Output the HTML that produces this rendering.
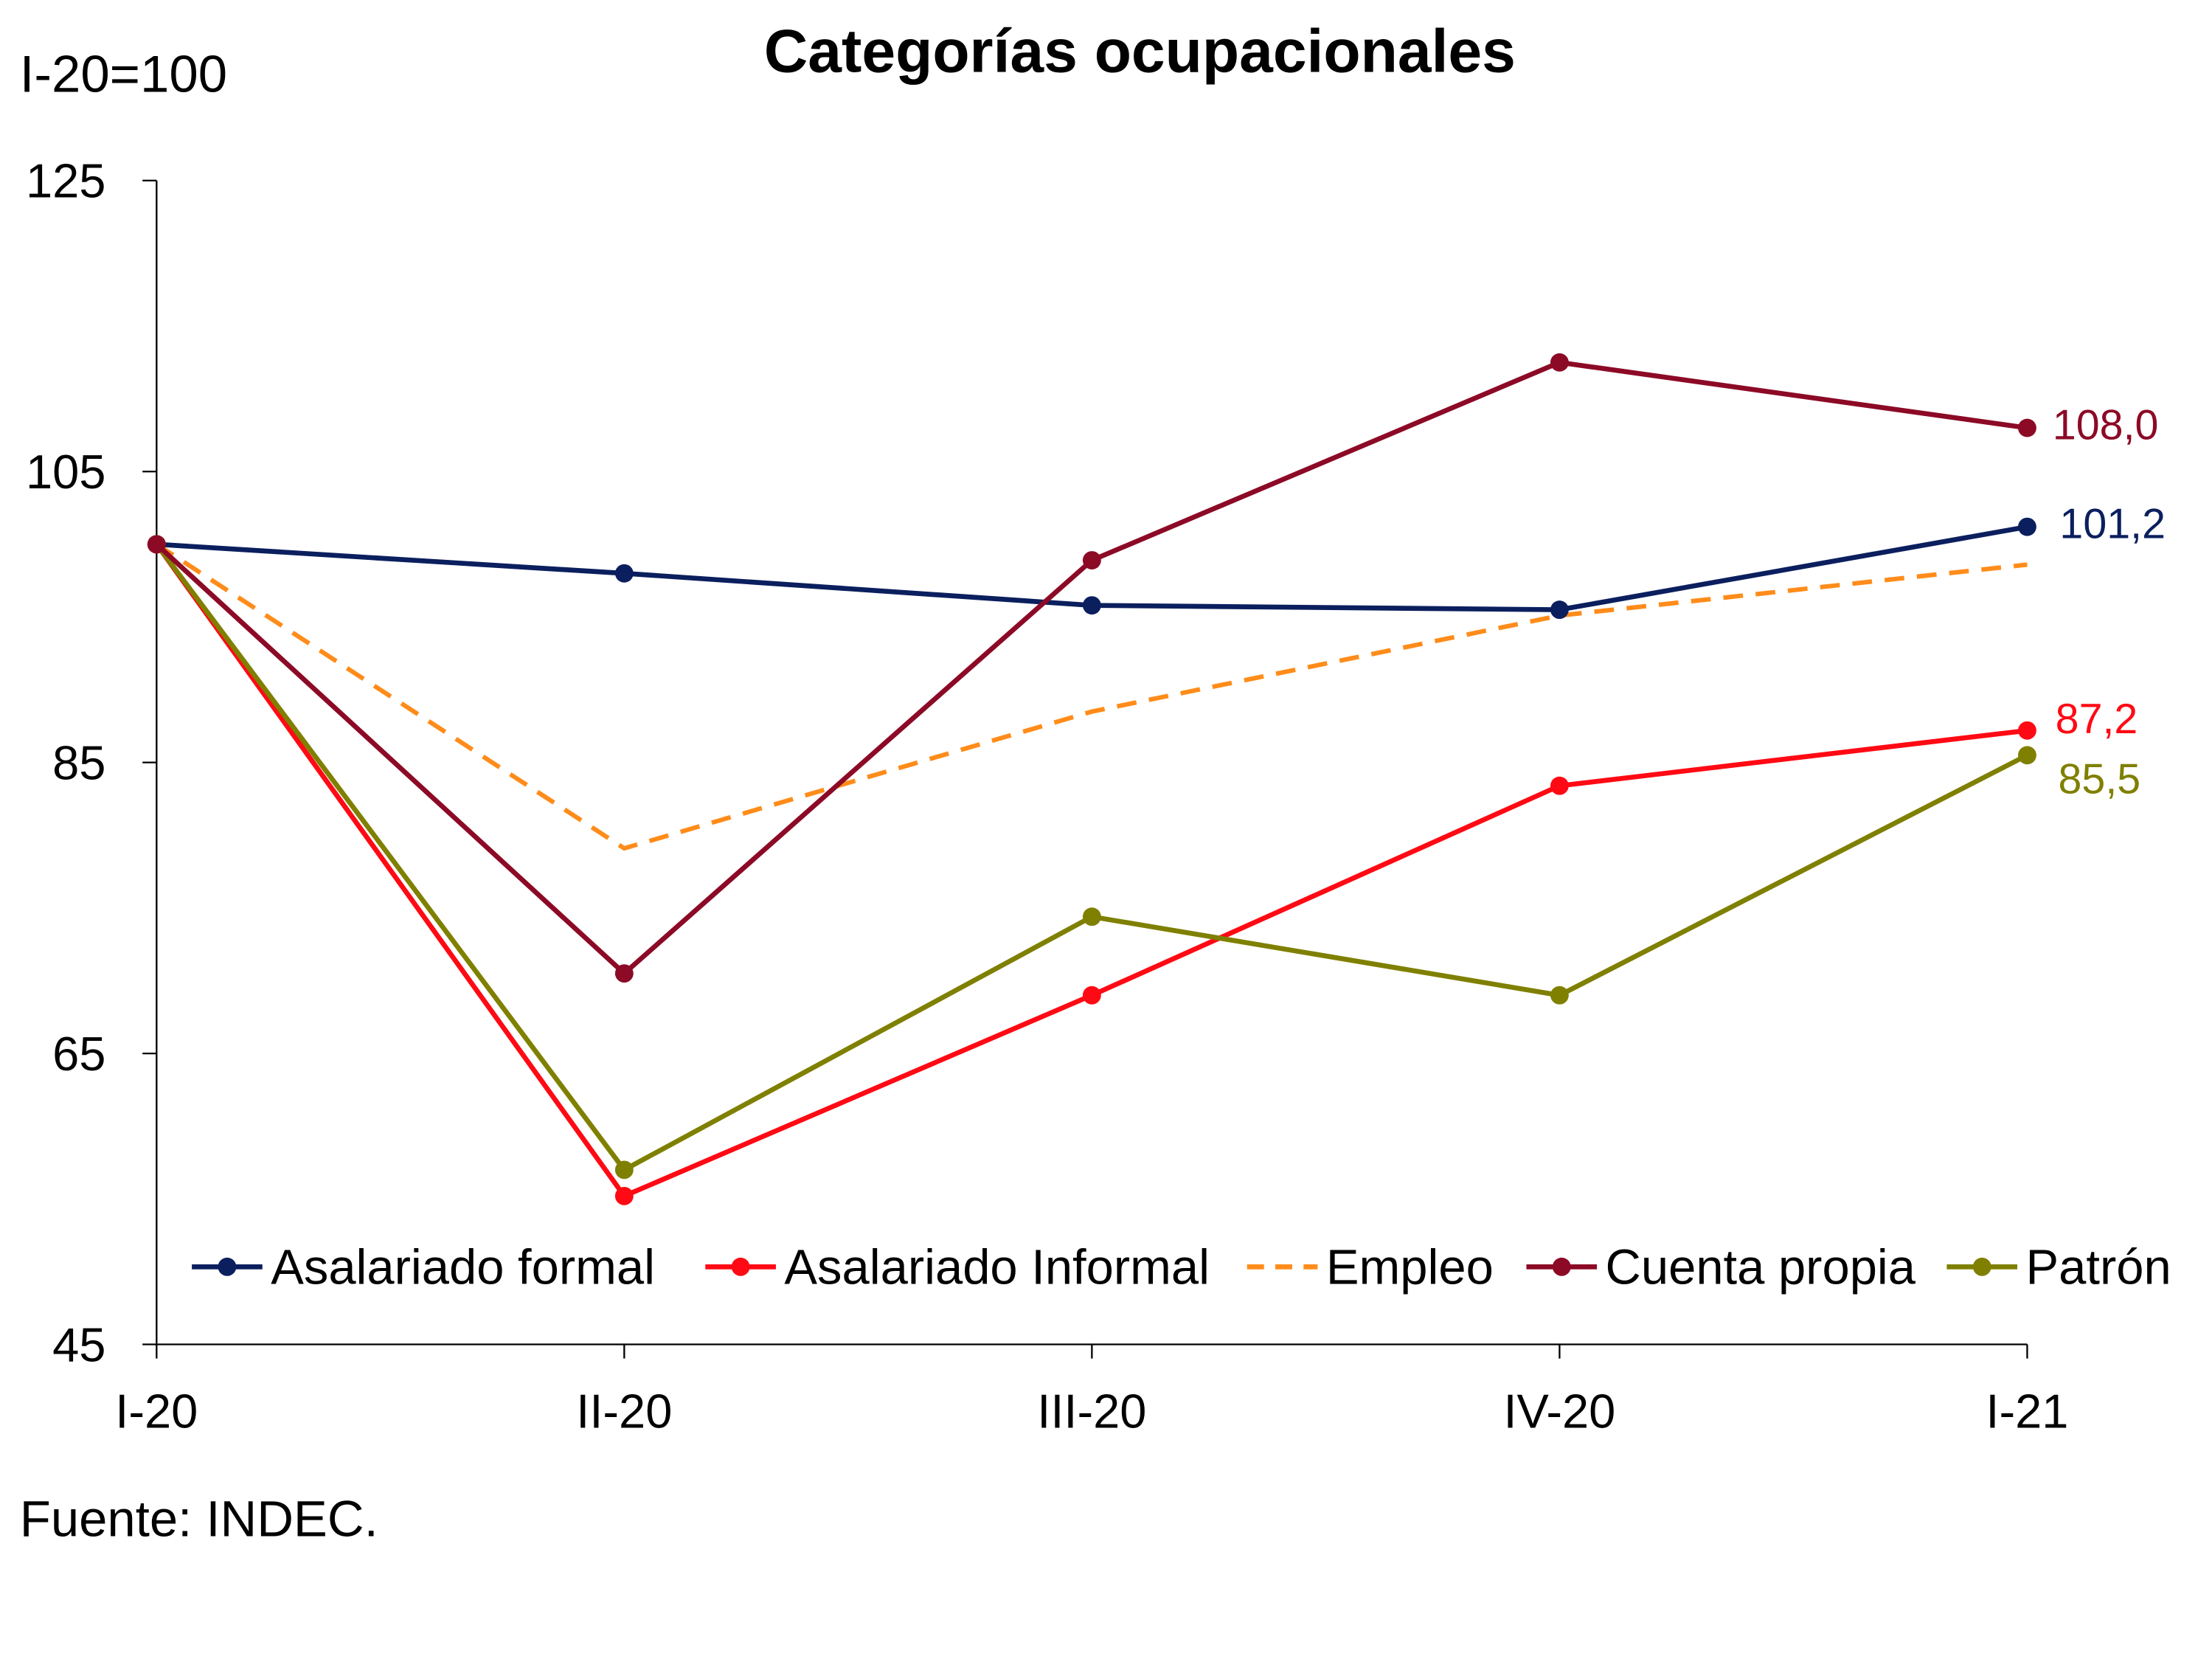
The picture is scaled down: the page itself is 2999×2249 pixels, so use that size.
<!DOCTYPE html>
<html><head><meta charset="utf-8"><style>
html,body{margin:0;padding:0;background:#fff;}
svg{display:block;}
text{font-family:"Liberation Sans",sans-serif;}
</style></head><body>
<svg id="chart" width="2999" height="2249" viewBox="0 0 1568 1176" preserveAspectRatio="none" xmlns="http://www.w3.org/2000/svg">
<rect width="1568" height="1176" fill="#fff"/>
<text x="808" y="51" text-anchor="middle" font-size="43" font-weight="bold" fill="#000">Categorías ocupacionales</text>
<text x="14" y="65" font-size="37" fill="#000">I-20=100</text>
<text x="14" y="1089" font-size="36" fill="#000">Fuente: INDEC.</text>
<g id="axes"></g>
<g id="series"></g>
<g id="legend"></g>
</svg>
<script>
const categories = ["I-20","II-20","III-20","IV-20","I-21"];
const yTicks = [45,65,85,105,125];
const seriesNames = ["Asalariado formal","Asalariado Informal","Empleo","Cuenta propia","Patrón"];
const formal = [100,98.0,95.8,95.5,101.2];
const informal = [100,55.2,69.0,83.4,87.2];
const empleo = [100,79.1,88.5,95.1,98.6];
const cuenta = [100,70.5,98.9,112.5,108.0];
const patron = [100,57.0,74.4,69.0,85.5];
const endLabels = ["101,2","87,2",null,"108,0","85,5"];

const NS="http://www.w3.org/2000/svg";
const X0=111,X1=1437,Y0=953,Y1=128,YMIN=45,YMAX=125;
const xs=i=>X0+(X1-X0)*i/(categories.length-1);
const ys=v=>Y0-(v-YMIN)/(YMAX-YMIN)*(Y0-Y1);
function mk(tag,attrs,parent,txt){const e=document.createElementNS(NS,tag);for(const k in attrs)e.setAttribute(k,attrs[k]);if(txt!=null)e.textContent=txt;parent.appendChild(e);return e;}
const axes=document.getElementById('axes');
const sg=document.getElementById('series');
const lg=document.getElementById('legend');

let l=mk('line',{x1:X0,y1:Y1,x2:X0,y2:Y0,stroke:'#000','stroke-width':1.2},axes);


l=mk('line',{x1:X0,y1:Y0,x2:X1,y2:Y0,stroke:'#000','stroke-width':1.2},axes);


yTicks.forEach(v=>{
  const t=mk('line',{x1:X0-10,y1:ys(v),x2:X0,y2:ys(v),stroke:'#000','stroke-width':1.2},axes);
  
  
  const tx=mk('text',{x:75,y:ys(v)+12,'text-anchor':'end','font-size':34,fill:'#000'},axes,String(v));
  
  
});
categories.forEach((c,i)=>{
  const t=mk('line',{x1:xs(i),y1:Y0,x2:xs(i),y2:Y0+10,stroke:'#000','stroke-width':1.2},axes);
  
  
  const tx=mk('text',{x:xs(i),y:1012,'text-anchor':'middle','font-size':34,fill:'#000'},axes,c);
  
  
});

const data=[formal,informal,empleo,cuenta,patron];
const colors=["#0b1f5e","#ff0a14","#ff8c1a","#8c0a26","#7f8000"];
const dashed=[false,false,true,false,false];
const labelOff=[[23,8],[20,2],null,[18,8],[22,27]];
const order=[2,0,1,4,3];
order.forEach(k=>{
  const vals=data[k];
  const pts=vals.map((v,i)=>xs(i)+','+ys(v)).join(' ');
  const pl=mk('polyline',{points:pts,fill:'none',stroke:colors[k],'stroke-width':dashed[k]?3.2:3.5,'stroke-dasharray':dashed[k]?'14 9':'none'},sg);
  
  
  if(!dashed[k]){
    vals.forEach((v,i)=>{
      const c=mk('circle',{cx:xs(i),cy:ys(v),r:6.5,fill:colors[k]},sg);
      
      
    });
  }
  if(endLabels[k]){
    const n=vals.length-1;
    const tx=mk('text',{x:xs(n)+labelOff[k][0],y:ys(vals[n])+labelOff[k][1],'font-size':30,fill:colors[k]},sg,endLabels[k]);
    
    
  }
});

const legX=[136,500,884,1082,1380];
seriesNames.forEach((nm,k)=>{
  const ly=898,x=legX[k];
  const g=mk('g',{},lg);
  
  
  mk('line',{x1:x,y1:ly,x2:x+50,y2:ly,stroke:colors[k],'stroke-width':3.5,'stroke-dasharray':dashed[k]?'12 8':'none'},g);
  if(!dashed[k]) mk('circle',{cx:x+25,cy:ly,r:6.5,fill:colors[k]},g);
  mk('text',{x:x+56,y:ly+12,'font-size':35,fill:'#000'},g,nm);
});
</script>
</body></html>
